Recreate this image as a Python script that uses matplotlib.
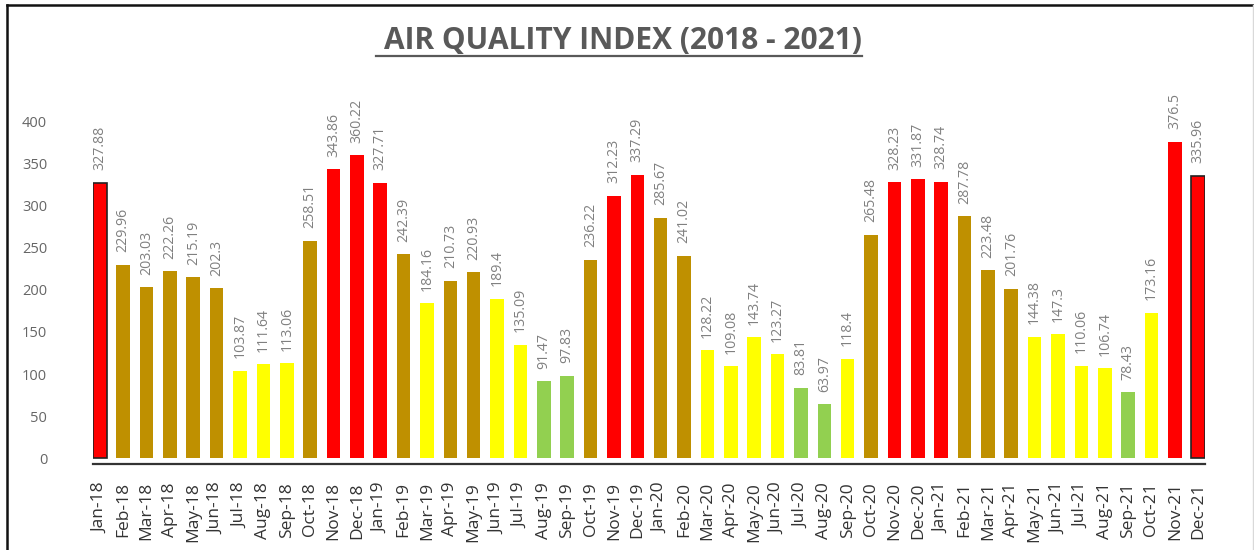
import numpy as np
import matplotlib
matplotlib.use("Agg")
import matplotlib.pyplot as plt
from matplotlib.lines import Line2D

plt.rcParams['font.family'] = ['Open Sans', 'DejaVu Sans']

# data
months = ["Jan", "Feb", "Mar", "Apr", "May", "Jun",
          "Jul", "Aug", "Sep", "Oct", "Nov", "Dec"]
years = ["18", "19", "20", "21"]
labels = [f"{m}-{y}" for y in years for m in months]

aqi_2018 = [327.88, 229.96, 203.03, 222.26, 215.19, 202.3,
            103.87, 111.64, 113.06, 258.51, 343.86, 360.22]
aqi_2019 = [327.71, 242.39, 184.16, 210.73, 220.93, 189.4,
            135.09, 91.47, 97.83, 236.22, 312.23, 337.29]
aqi_2020 = [285.67, 241.02, 128.22, 109.08, 143.74, 123.27,
            83.81, 63.97, 118.4, 265.48, 328.23, 331.87]
aqi_2021 = [328.74, 287.78, 223.48, 201.76, 144.38, 147.3,
            110.06, 106.74, 78.43, 173.16, 376.5, 335.96]

values = np.array(aqi_2018 + aqi_2019 + aqi_2020 + aqi_2021)


def band_colour(v):
    if v >= 300:
        return "#FF0000"
    if v >= 200:
        return "#BF9000"
    if v >= 100:
        return "#FFFF00"
    return "#92D050"


colours = [band_colour(v) for v in values]

W, H = 1254, 550
fig = plt.figure(figsize=(W / 100, H / 100), dpi=100)

# axes placed in pixels: x 93..1205, y 90..464
ax = fig.add_axes([93 / W, (H - 464) / H, (1205 - 93) / W, (464 - 90) / H])

x = np.arange(len(values))
bw = 0.58
bars = ax.bar(x, values, width=bw, color=colours, edgecolor="none", zorder=2)
for i in (0, len(values) - 1):
    bars[i].set_edgecolor("#222222")
    bars[i].set_linewidth(1.2)

for xi, v in zip(x, values):
    ax.annotate(f"{v:g}", (xi, v), xytext=(0, 9), textcoords="offset points",
                rotation=90, ha="center", va="bottom", fontsize=10.2,
                color="#808080")

ax.set_xlim(-bw / 2, len(values) - 1 + bw / 2)
ax.set_ylim(-7.1, 438)
ax.set_yticks(np.arange(0, 401, 50))
ax.set_xticks(x)
ax.set_xticklabels(labels, rotation=90, fontsize=12.5, color="#333333")
ax.tick_params(axis="y", length=0, pad=33, labelsize=10.5, labelcolor="#666666")
ax.tick_params(axis="x", length=0, pad=13)
for lab in ax.get_yticklabels():
    lab.set_horizontalalignment("right")

for s in ("left", "right", "top"):
    ax.spines[s].set_visible(False)
ax.spines["bottom"].set_color("#333333")
ax.spines["bottom"].set_linewidth(1.6)

# title with underline
title = fig.text(623 / W, 1 - 41 / H, "AIR QUALITY INDEX (2018 - 2021)",
                 ha="center", va="center", fontsize=21.5, fontweight="bold",
                 color="#595959")
fig.canvas.draw()
bb = title.get_window_extent(fig.canvas.get_renderer())
uy = H - 56
fig.add_artist(Line2D([(bb.x0 - 8) / W, bb.x1 / W], [uy / H, uy / H],
                      color="#595959", lw=1.6, transform=fig.transFigure))

# outer frame
fig.add_artist(Line2D([7 / W, 7 / W], [0, 1 - 5 / H], color="#111111", lw=1.8,
                      transform=fig.transFigure))
fig.add_artist(Line2D([7 / W, 1253 / W], [1 - 5 / H, 1 - 5 / H], color="#111111",
                      lw=1.8, transform=fig.transFigure))
fig.add_artist(Line2D([1252.5 / W, 1252.5 / W], [0, 1 - 5 / H], color="#d9d9d9",
                      lw=1.0, transform=fig.transFigure))

fig.savefig("out.png", dpi=100)
